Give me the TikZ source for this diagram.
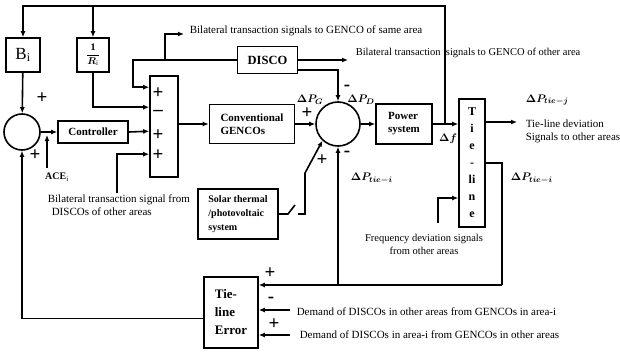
\documentclass[tikz,border=0pt]{standalone}
\usepackage{amsmath,bm}
\usepackage{fontspec}
\setmainfont{Liberation Serif}
\usetikzlibrary{arrows.meta,calc}

\begin{document}
\begin{tikzpicture}[x=1pt,y=-1pt,line width=1.6pt,
  blk/.style={draw,line width=1.6pt,inner sep=2pt,font=\bfseries\fontsize{11}{13}\selectfont},
  sumc/.style={draw,circle,line width=1.6pt,inner sep=0pt},
  sgn/.style={font=\bfseries\fontsize{19}{19}\selectfont,inner sep=0pt},
  lbl/.style={font=\fontsize{11}{13}\selectfont,inner sep=0pt},
  sig/.style={-{Latex[length=6pt,width=5pt]}}]
  \useasboundingbox (0,0) rectangle (620,353);

  \node[blk,minimum width=34pt,minimum height=34pt] (bi) at (23,55) {\mdseries\fontsize{17}{17}\selectfont B\textsubscript{i}};
  \node[blk,minimum width=32pt,minimum height=34pt,font=\fontsize{10}{10}\selectfont] (invr) at (93,55) {$\dfrac{\mathbf{1}}{\bm{R}_{\mathrm{i}}}$};
  \node[sumc,minimum size=36pt] (sum1) at (22,132) {};
  \node[blk,minimum width=70pt,minimum height=22pt] (ctrl) at (93,132) {Controller};
  \node[draw,minimum width=28pt,minimum height=101pt] (mix) at (164,126.5) {};
  \node[blk,minimum width=85pt,minimum height=39pt,align=left] (conv) at (252,124) {Conventional\\GENCOs};
  \node[blk,minimum width=60pt,minimum height=27pt,font=\bfseries\fontsize{12.5}{13}\selectfont] (disco) at (267.5,60) {DISCO};
  \node[sumc,minimum size=44pt] (sum2) at (338,124) {};
  \node[blk,minimum width=56pt,minimum height=40pt,align=left] (psys) at (404,124) {Power\\system};
  \node[blk,minimum width=26pt,minimum height=128pt,align=center,font=\bfseries\fontsize{12}{17}\selectfont] (tie) at (472,163) {T\\i\\e\\-\\li\\n\\e};
  \node[blk,minimum width=80pt,minimum height=50pt,align=left,font=\bfseries\fontsize{10}{14}\selectfont] (solar) at (238,214) {Solar thermal\\/photovoltaic\\system};
  \node[blk,minimum width=54pt,minimum height=71pt,align=left,font=\bfseries\fontsize{13}{18}\selectfont] (tle) at (231,312.5) {Tie-\\line\\Error};

  \coordinate (m1) at ($(mix.north west)+(0,12)$);
  \coordinate (m2) at ($(mix.north west)+(0,32)$);
  \coordinate (m3) at ($(mix.north west)+(0,56)$);
  \coordinate (m4) at ($(mix.north west)+(0,79)$);
  \coordinate (tl) at (23,6);
  \coordinate (df) at (445,124);
  \coordinate (ace) at (47,168);
  \coordinate (acee) at (47,135);
  \coordinate (bto) at (117,193);
  \coordinate (dl) at (133,60);
  \coordinate (sa) at (165,60);
  \coordinate (sae) at (184,34);
  \coordinate (oae) at (348,60);
  \coordinate (tj) at (517,122);
  \coordinate (ti) at (502,163);
  \coordinate (lp) at (502,285);
  \coordinate (fq) at (438,223);
  \coordinate (sw1) at (288,214);
  \coordinate (sw2) at (295,205);
  \coordinate (sw3) at (298,214);
  \coordinate (sw4) at (305,214);
  \coordinate (sw5) at (305,173);
  \coordinate (d1) at (290,310);
  \coordinate (d2) at (290,335);

  \draw[sig] (df) |- (tl) -- (bi.north);
  \draw[sig] (invr.north |- tl) -- (invr.north);
  \draw[sig] (bi) -- (sum1);
  \draw[sig] (sum1) -- (ctrl);
  \draw[sig] (ace) -- (acee);
  \draw[sig] (invr.south) |- (m2);
  \draw[sig] (ctrl.east) -- (m3);
  \draw[sig] (bto) |- (m4);
  \draw[sig] (disco.west) -- (dl) |- (m1);
  \draw[sig] (sa) |- (sae);
  \draw[sig] (disco.east) -- (oae);
  \draw[sig] ($(disco.east)+(0,10)$) -| (sum2.north);
  \draw[sig] (mix.east |- conv) -- (conv.west);
  \draw[sig] (conv) -- (sum2);
  \draw[sig] (sum2) -- (psys);
  \draw[sig] (psys.east) -- (psys.east -| tie.west);
  \draw[sig] (tie.east |- tj) -- (tj);
  \draw (tie.east |- ti) -- (ti) -- (lp);
  \draw[sig] (lp) -- (tle.east |- lp);
  \draw[sig] (sum2.south |- lp) -- (sum2.south);
  \draw[sig] (fq) |- ($(tie.west)+(0,35)$);
  \draw (solar.east) -- (sw1) -- (sw2);
  \draw[sig] (sw3) -- (sw4) -- (sw5) -- (sum2.227);
  \draw[sig] ($(tle.west)+(0,6)$) -| (sum1.south);
  \draw[sig] (d1) -- (tle.east |- d1);
  \draw[sig] (d2) -- (tle.east |- d2);

  \node[sgn] (s1a) at (42,98) {+};
  \node[sgn] (s1b) at (35,155) {+};
  \node[sgn] (ma) at (158,93) {+};
  \node[sgn] (mb) at (158,113) {--};
  \node[sgn] (mc) at (158,135) {+};
  \node[sgn] (md) at (158,155) {+};
  \node[sgn] (s2a) at (307,113) {+};
  \node[sgn] (s2b) at (347,88) {-};
  \node[sgn] (s2c) at (347,154) {-};
  \node[sgn] (s2d) at (322,160) {+};
  \node[sgn] (ta) at (270,273) {+};
  \node[sgn] (tb) at (271,300) {-};
  \node[sgn] (tc) at (274,324) {+};

  \node[font=\bfseries\fontsize{10}{11}\selectfont] (acel) at (57,177) {ACE\textsubscript{\mdseries i}};
  \node[lbl,anchor=west] (satxt) at (189,31) {Bilateral transaction signals to GENCO of same area};
  \node[lbl,anchor=west,font=\fontsize{10.5}{12}\selectfont] (oatxt) at (355,53) {Bilateral transaction\ \ signals to GENCO of other area};
  \node[lbl,align=left,anchor=north west] (btotxt) at (47,194) {Bilateral transaction signal from\\\hspace{4pt}DISCOs of other areas};
  \node[lbl] (pg) at (310,100) {$\bm{\Delta}\bm{P}_{\bm{G}}$};
  \node[lbl] (pd) at (361,100) {$\bm{\Delta}\bm{P}_{\bm{D}}$};
  \node[lbl] (dflbl) at (448,139) {$\bm{\Delta}\bm{f}$};
  \node[lbl,anchor=west] (ptj) at (525,100) {$\bm{\Delta}\bm{P}_{\bm{tie-j}}$};
  \node[lbl,align=left,anchor=west] (tjtxt) at (525,131) {Tie-line deviation\\Signals to other areas};
  \node[lbl,anchor=west] (pti) at (510,178) {$\bm{\Delta}\bm{P}_{\bm{tie-i}}$};
  \node[lbl,anchor=west] (pti2) at (350,178) {$\bm{\Delta}\bm{P}_{\bm{tie-i}}$};
  \node[lbl,align=center,font=\fontsize{10.5}{13}\selectfont] (fqtxt) at (424,244) {Frequency deviation signals\\from other areas};
  \node[lbl,anchor=west] (d1txt) at (296,312) {Demand of DISCOs in other areas from GENCOs in area-i};
  \node[lbl,anchor=west] (d2txt) at (299,335) {Demand of DISCOs in area-i from GENCOs in other areas};
\end{tikzpicture}
\end{document}
